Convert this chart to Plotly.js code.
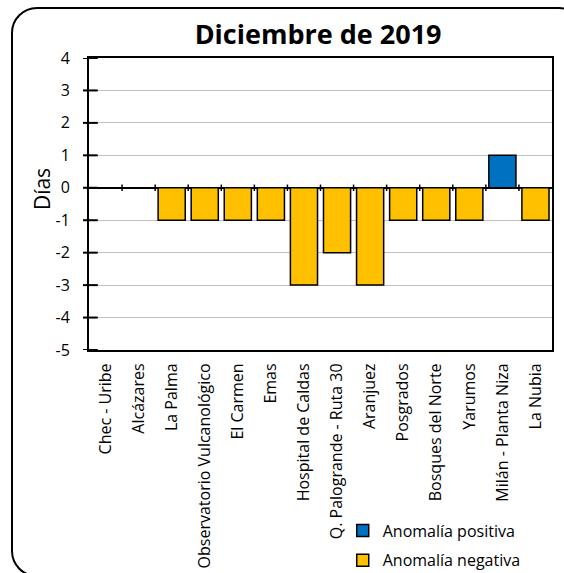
<!DOCTYPE html>
<html>
<head>
<meta charset="utf-8">
<script src="https://cdn.plot.ly/plotly-3.0.1.min.js"></script>
<style>
html,body{margin:0;padding:0;background:#fff;overflow:hidden;}
#wrap{position:relative;width:564px;height:573px;overflow:hidden;}
#chart{position:absolute;left:0;top:0;width:564px;height:573px;}
#frame{position:absolute;left:11px;top:7px;width:570px;height:566px;border:2px solid #000;border-radius:26px;pointer-events:none;}
</style>
</head>
<body>
<div id="wrap"><div id="chart"></div><div id="frame"></div></div>
<script>
const categories = ["Chec - Uribe","Alcázares","La Palma","Observatorio Vulcanológico","El Carmen","Emas","Hospital de Caldas","Q. Palogrande - Ruta 30","Aranjuez","Posgrados","Bosques del Norte","Yarumos","Milán - Planta Niza","La Nubia"];
const positiveValues = [null,null,null,null,null,null,null,null,null,null,null,null,1,null];
const negativeValues = [null,null,-1,-1,-1,-1,-3,-2,-3,-1,-1,-1,null,-1];
const yTicks = [-5,-4,-3,-2,-1,0,1,2,3,4];

const font = "Open Sans, sans-serif";
const traces = [
  {type:"bar", name:"Anomalía positiva", x:categories, y:positiveValues,
   marker:{color:"#0070C0", line:{color:"#000", width:1.5}}, legendgroup:"p"},
  {type:"bar", name:"Anomalía negativa", x:categories, y:negativeValues,
   marker:{color:"#FFC000", line:{color:"#000", width:1.5}}, legendgroup:"n"}
];
const shapes = [];
for (let i = 0; i < categories.length - 1; i++) {
  shapes.push({type:"line", xref:"x", yref:"y", x0:i+0.5, x1:i+0.5, y0:-0.1, y1:0.1, line:{color:"#000", width:1.5}});
}
yTicks.forEach(v => {
  shapes.push({type:"line", xref:"paper", yref:"y", x0:-0.013, x1:0.019, y0:v, y1:v, line:{color:"#000", width:2}});
});
const layout = {
  width:564, height:573,
  margin:{l:89, r:12, t:58, b:223, autoexpand:false},
  paper_bgcolor:"rgba(0,0,0,0)", plot_bgcolor:"#fff",
  title:{text:"<b>Diciembre de 2019</b>", font:{family:font, size:27, color:"#000"}, x:0.564, xanchor:"center", y:0.939, yanchor:"middle"},
  barmode:"relative", bargap:0.18,
  showlegend:true,
  legend:{x:0.548, y:-0.56, xanchor:"left", yanchor:"top", itemwidth:30, font:{family:font, size:16, color:"#000"}, tracegroupgap:6, bgcolor:"rgba(0,0,0,0)"},
  xaxis:{type:"category", tickangle:-90, tickfont:{family:font, size:16, color:"#000"}, ticklabelstandoff:5,
    showline:true, linecolor:"#000", linewidth:2, mirror:true, ticks:"", showgrid:false, range:[-0.5,13.5], fixedrange:true},
  yaxis:{range:[-5,4], tickvals:yTicks, ticktext:yTicks.map(String), tickfont:{family:font, size:16, color:"#000"},
    ticks:"", ticklabelstandoff:14,
    showline:true, linecolor:"#000", linewidth:2, mirror:true,
    showgrid:true, gridcolor:"#BFBFBF", gridwidth:1, zeroline:true, zerolinecolor:"#000", zerolinewidth:2},
  annotations:[{text:"Días", xref:"paper", yref:"paper", x:-0.1, y:0.55, xanchor:"center", yanchor:"middle", textangle:-90, showarrow:false, font:{family:font, size:21, color:"#000"}}],
  shapes:shapes
};
Plotly.newPlot("chart", traces, layout, {staticPlot:true, displayModeBar:false});
</script>
</body>
</html>
